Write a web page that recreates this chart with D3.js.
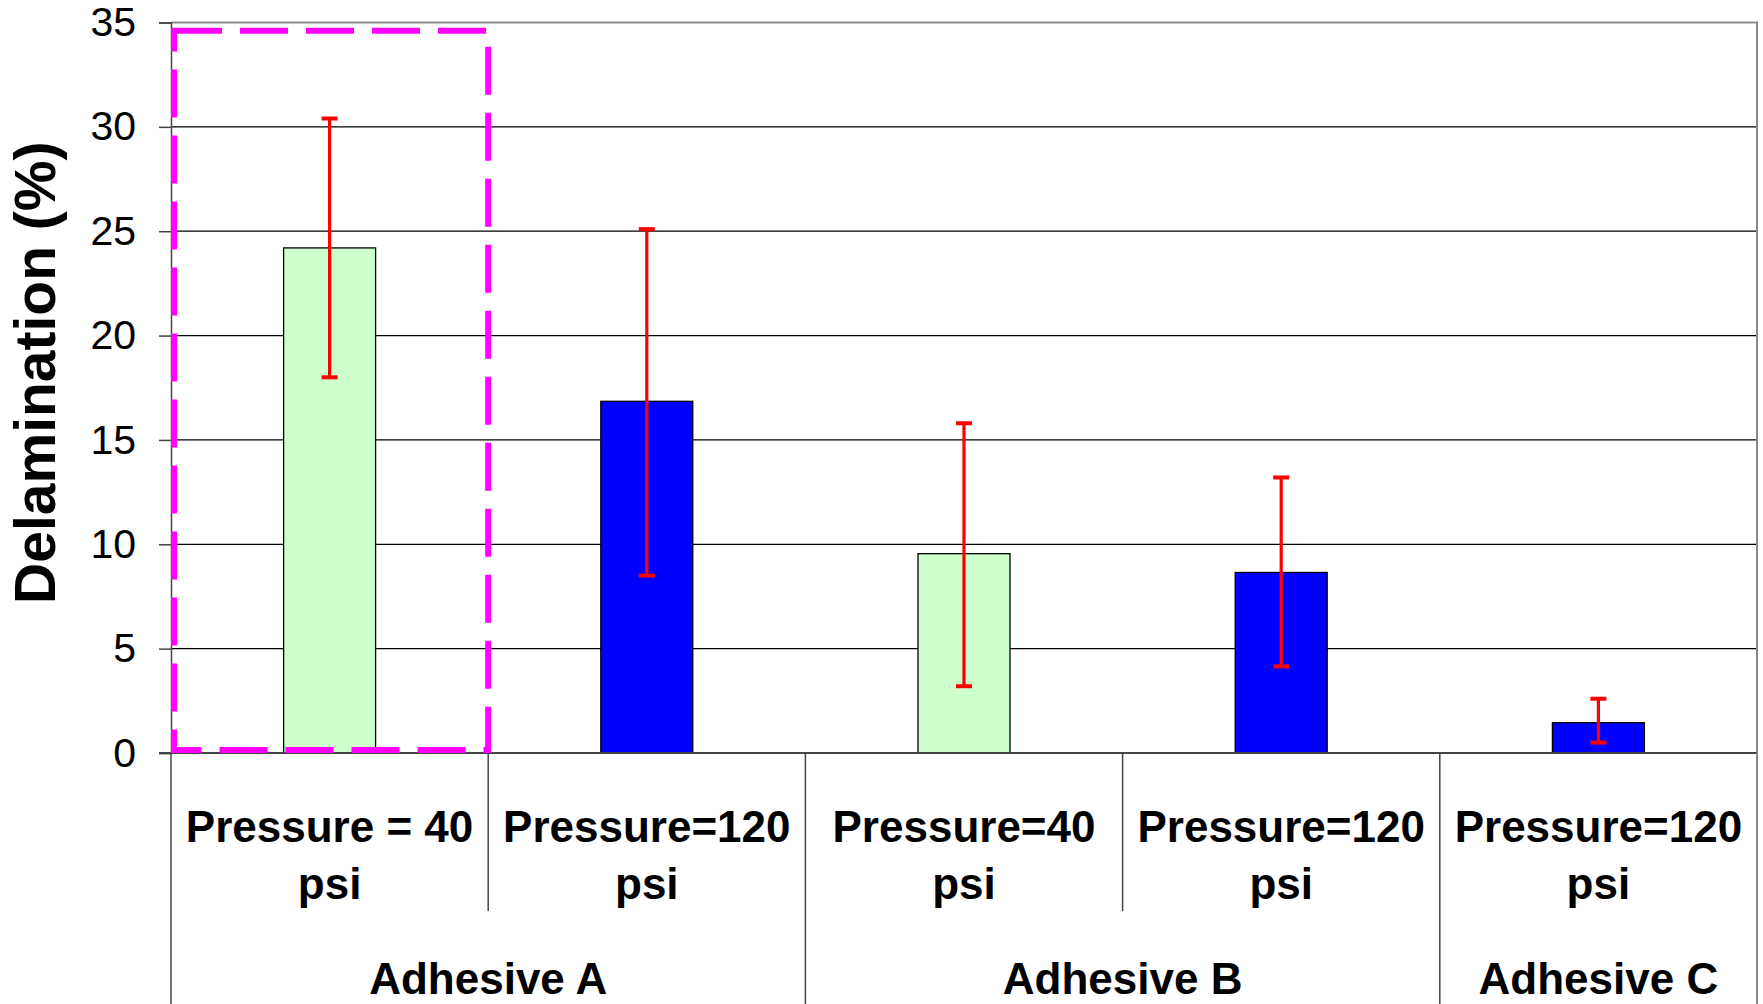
<!DOCTYPE html>
<html>
<head>
<meta charset="utf-8">
<script src="https://cdn.jsdelivr.net/npm/d3@7"></script>
<style>
  html, body { margin: 0; padding: 0; background: #fff; }
  svg { display: block; font-family: Arial, "Liberation Sans", sans-serif; }
</style>
</head>
<body>
<div id="chart-container"></div>
<script>
/* chart data */
var categories = ["A40", "A120", "B40", "B120", "C120"]
var subLabels = [["Pressure = 40", "psi"], ["Pressure=120", "psi"], ["Pressure=40", "psi"], ["Pressure=120", "psi"], ["Pressure=120", "psi"]]
var groupOf = ["Adhesive A", "Adhesive A", "Adhesive B", "Adhesive B", "Adhesive C"]
var groups = ["Adhesive A", "Adhesive B", "Adhesive C"]
var pressure = [40, 120, 40, 120, 120]
var values = [24.2, 16.85, 9.55, 8.65, 1.45]
var errLow = [18.0, 8.5, 3.2, 4.15, 0.5]
var errHigh = [30.4, 25.1, 15.8, 13.2, 2.6]
var yTicks = [0, 5, 10, 15, 20, 25, 30, 35]
var highlight = { category: "A40", top: 34.6 }

var pressureColors = { 40: "#CCFFCC", 120: "#0000FF" }

/* layout */
var width = 1763
    height = 1004
    plot = { left: 171, right: 1757, top: 22.5, bottom: 753 }

var x = d3.scaleBand().domain(categories).range([plot.left, plot.right]).padding(0)
    y = d3.scaleLinear().domain([0, 35]).range([plot.bottom, plot.top])
    barW = x.bandwidth() * 0.29

var svg = d3.select("#chart-container")
  .append("svg")
  .attr("width", width)
  .attr("height", height)

/* gridlines */
svg.append("g")
  .selectAll("line")
  .data(yTicks.filter(function(d) { return d > 0 && d < 35 }))
  .enter()
  .append("line")
  .attr("x1", plot.left)
  .attr("x2", plot.right)
  .attr("y1", function(d) { return y(d) })
  .attr("y2", function(d) { return y(d) })
  .style("stroke", "#000")
  .style("stroke-width", 1.3)

/* top & right border */
svg.append("path")
  .attr("d", "M" + plot.left + "," + y(35) + "H" + plot.right + "V" + y(0))
  .attr("fill", "none")
  .style("stroke", "#8a8a8a")
  .style("stroke-width", 2)

/* y axis */
var yAxis = d3.axisLeft(y).tickValues(yTicks).tickSize(12).tickPadding(23)
var yg = svg.append("g")
  .attr("transform", "translate(" + plot.left + ",0)")
  .call(yAxis)
yg.select(".domain").style("stroke", "#444").style("stroke-width", 1.5)
yg.selectAll(".tick line").style("stroke", "#444").style("stroke-width", 1.5)
yg.selectAll(".tick text")
  .style("font-size", "41px")
  .style("fill", "#000")
  .attr("font-family", "Arial, 'Liberation Sans', sans-serif")

/* y title */
svg.append("text")
  .attr("transform", "translate(55," + ((plot.top + plot.bottom) / 2 - 15) + ") rotate(-90)")
  .attr("text-anchor", "middle")
  .style("font-size", "57px")
  .style("font-weight", "bold")
  .text("Delamination (%)")

/* bars */
svg.append("g")
  .selectAll("rect")
  .data(categories)
  .enter()
  .append("rect")
  .attr("x", function(d) { return x(d) + (x.bandwidth() - barW) / 2 })
  .attr("y", function(d, i) { return y(values[i]) })
  .attr("width", barW)
  .attr("height", function(d, i) { return y(0) - y(values[i]) })
  .attr("fill", function(d, i) { return pressureColors[pressure[i]] })
  .style("stroke", "#000")
  .style("stroke-width", 1.3)

/* error bars */
var eg = svg.append("g").style("stroke", "#FF0000").style("stroke-width", 3.2)
categories.forEach(function(c, i) {
  var cx = x(c) + x.bandwidth() / 2
  eg.append("line").attr("x1", cx).attr("x2", cx).attr("y1", y(errLow[i])).attr("y2", y(errHigh[i]))
  eg.append("line").attr("x1", cx - 8).attr("x2", cx + 8).attr("y1", y(errLow[i])).attr("y2", y(errLow[i])).style("stroke-width", 4)
  eg.append("line").attr("x1", cx - 8).attr("x2", cx + 8).attr("y1", y(errHigh[i])).attr("y2", y(errHigh[i])).style("stroke-width", 4)
})

/* x axis baseline */
svg.append("line")
  .attr("x1", plot.left - 12).attr("x2", plot.right)
  .attr("y1", y(0)).attr("y2", y(0))
  .style("stroke", "#444").style("stroke-width", 2)

/* category separators */
var sepG = svg.append("g").style("stroke", "#444").style("stroke-width", 1.5)
categories.forEach(function(c, i) {
  if (i == 0) return
  var isGroupEdge = groupOf[i] != groupOf[i - 1]
  sepG.append("line")
    .attr("x1", x(c)).attr("x2", x(c))
    .attr("y1", y(0)).attr("y2", isGroupEdge ? height : 911)
})
sepG.append("line").attr("x1", plot.left).attr("x2", plot.left).attr("y1", y(0)).attr("y2", height)
sepG.append("line").attr("x1", plot.right).attr("x2", plot.right).attr("y1", y(0)).attr("y2", height)
  .style("stroke", "#8a8a8a").style("stroke-width", 2)

/* sub category labels */
var lab = svg.append("g")
  .attr("text-anchor", "middle")
  .style("font-size", "44px")
  .style("font-weight", "bold")
categories.forEach(function(c, i) {
  var cx = x(c) + x.bandwidth() / 2
  lab.append("text").attr("x", cx).attr("y", 842).text(subLabels[i][0])
  lab.append("text").attr("x", cx).attr("y", 899).text(subLabels[i][1])
})

/* group labels */
groups.forEach(function(g) {
  var members = categories.filter(function(c, i) { return groupOf[i] == g })
  var gx0 = x(members[0])
      gx1 = x(members[members.length - 1]) + x.bandwidth()
  lab.append("text").attr("x", (gx0 + gx1) / 2).attr("y", 994).text(g)
})

/* magenta highlight box */
svg.append("rect")
  .attr("x", x(highlight.category) + 3)
  .attr("y", y(highlight.top))
  .attr("width", x.bandwidth() - 3)
  .attr("height", y(0) - y(highlight.top) - 3)
  .attr("fill", "none")
  .style("stroke", "#FF00FF")
  .style("stroke-width", 6)
  .style("stroke-dasharray", "48,18")
</script>
</body>
</html>
